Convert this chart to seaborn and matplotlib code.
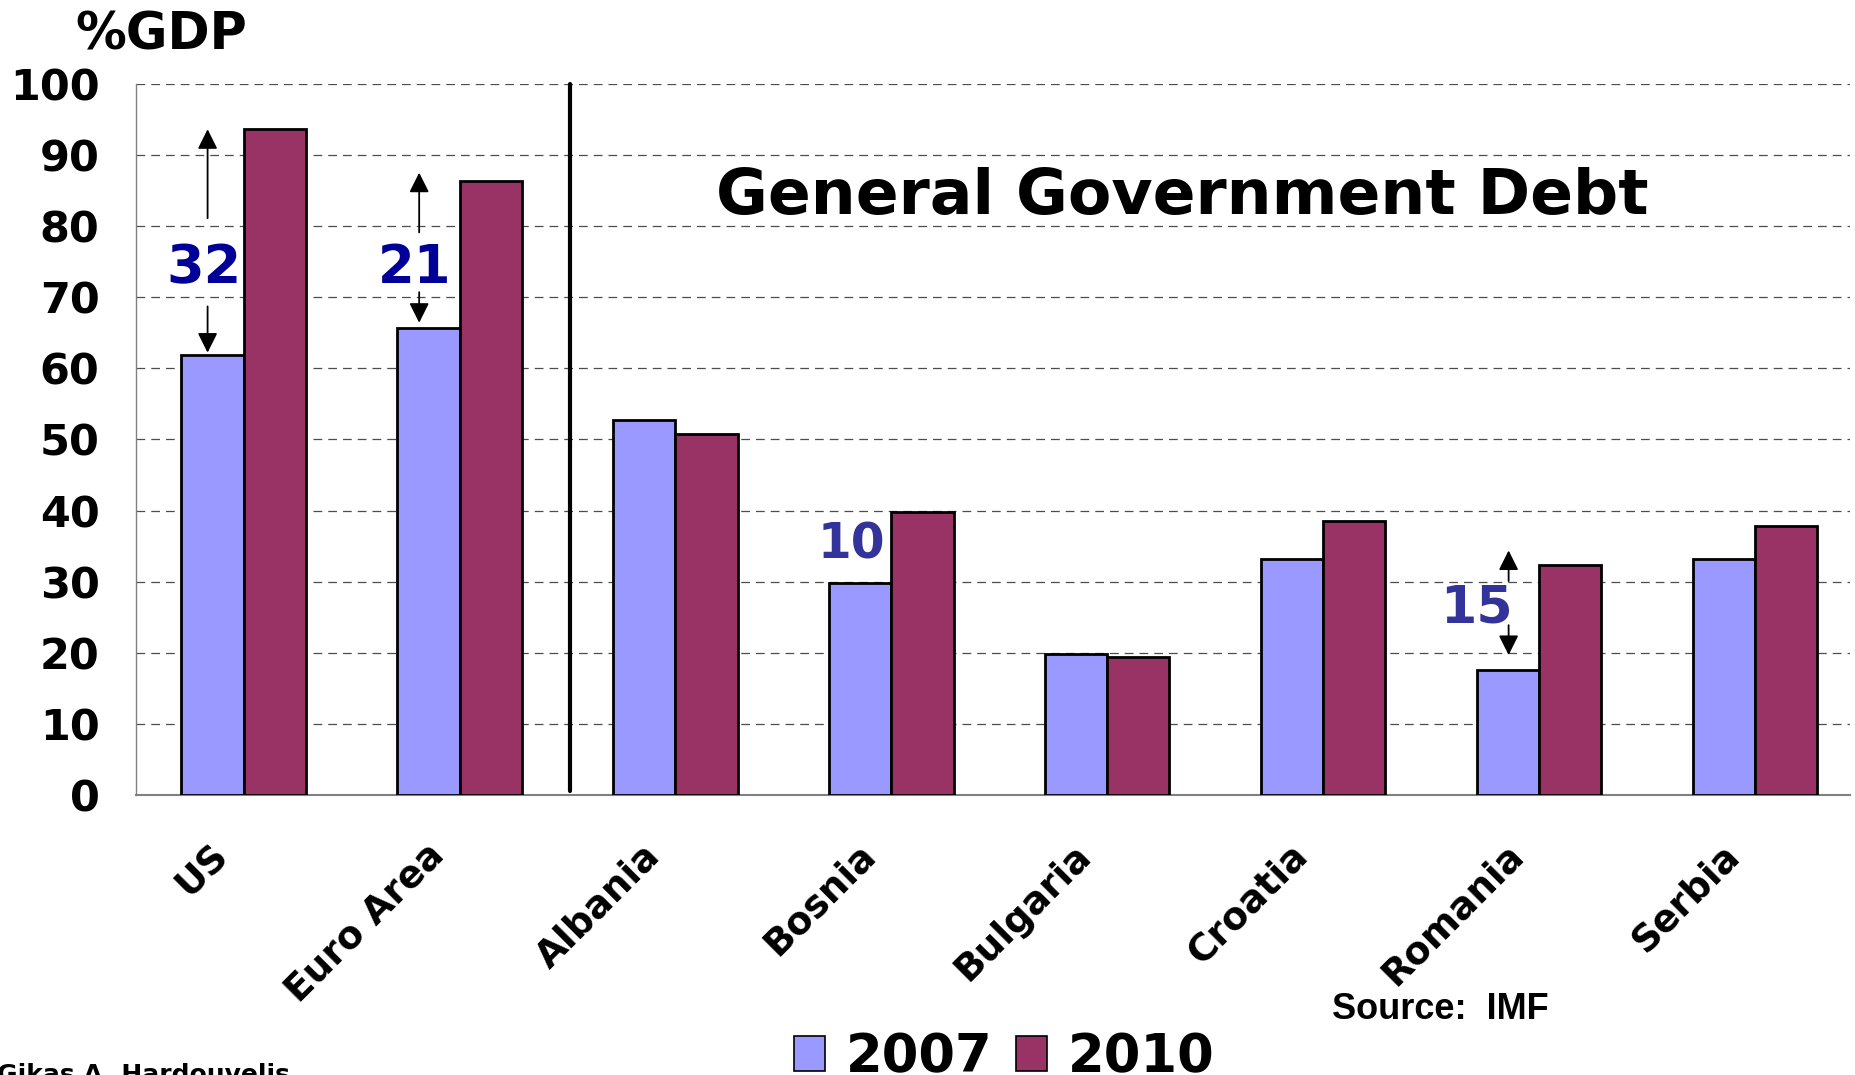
import numpy as np
import pandas as pd
import matplotlib
matplotlib.use("Agg")
import matplotlib.pyplot as plt
import matplotlib.transforms as mtransforms
from matplotlib.patches import Patch
import seaborn as sns

# ---- data ----
categories = ["US", "Euro Area", "Albania", "Bosnia", "Bulgaria", "Croatia", "Romania", "Serbia"]
years = ["2007", "2010"]
debt_2007 = [61.9, 65.7, 52.8, 29.8, 19.8, 33.2, 17.6, 33.2]
debt_2010 = [93.7, 86.3, 50.8, 39.8, 19.4, 38.5, 32.3, 37.8]
yticks = list(range(0, 101, 10))
change_labels = ["32", "21", "10", "15"]
title = "General Government Debt"
ylabel = "%GDP"
source = "Source:  IMF"
author = "Gikas A. Hardouvelis"

colors = {"2007": "#9999FF", "2010": "#993366"}

df = pd.DataFrame({
    "country": categories * 2,
    "year": ["2007"] * len(categories) + ["2010"] * len(categories),
    "debt": debt_2007 + debt_2010,
})

sns.set_style("white")
plt.rcParams["font.family"] = ["DejaVu Sans"]
plt.rcParams["font.weight"] = "bold"
for k in ["text.color", "axes.labelcolor", "xtick.labelcolor", "ytick.labelcolor"]:
    plt.rcParams[k] = "black"

W, H = 1856, 1075
fig = plt.figure(figsize=(W / 100, H / 100), dpi=100)
left_px, right_px, top_px, bottom_px = 135.7, 1850, 83.7, 795.2
unit_px = 215.9
ax = fig.add_axes([left_px / W, 1 - bottom_px / H, (right_px - left_px) / W, (bottom_px - top_px) / H])

sns.barplot(data=df, x="country", y="debt", hue="year", order=categories, hue_order=years,
            palette=colors, width=0.576, gap=0, edgecolor="black", linewidth=2.0,
            saturation=1, ax=ax, legend=False, zorder=3)

ax.set_axisbelow(True)

# grid
ax.set_yticks(yticks)
ax.yaxis.grid(True, color="#4d4d4d", linewidth=0.9, linestyle=(0, (7, 4.8)))
ax.xaxis.grid(False)

for s in ["top", "right"]:
    ax.spines[s].set_visible(False)
ax.spines["left"].set_color("#808080")
ax.spines["left"].set_linewidth(1.0)
ax.spines["bottom"].set_color("#808080")
ax.spines["bottom"].set_linewidth(1.5)

ax.tick_params(axis="y", length=10, width=1.0, color="#808080", pad=16,
               labelsize=31, labelcolor="black")
for t in ax.get_yticklabels():
    t.set_fontweight("bold")

# x ticks: labels at centres, tick marks at boundaries
ax.set_xticks(range(len(categories)))
ax.set_xticklabels(categories, rotation=45, ha="right", va="top",
                   rotation_mode="anchor", fontsize=27, fontweight="bold", color="black")
ax.set_xticks(np.arange(-0.5, len(categories) + 0.5, 1), minor=True)
ax.tick_params(axis="x", which="major", length=0, pad=0)
ax.tick_params(axis="x", which="minor", length=9, width=1.0, color="#808080")
offset = mtransforms.ScaledTranslation(-34 / 100, -42 / 100, fig.dpi_scale_trans)
for lab in ax.get_xticklabels():
    lab.set_transform(lab.get_transform() + offset)
ax.set_xlabel("")
ax.set_ylabel("")

# separator line
ax.plot([1.51, 1.51], [0.6, 100], color="black", lw=3.0, zorder=4, clip_on=False)

# title
ax.text(4.346, 81.7, title, ha="center", va="baseline", fontsize=45.5,
        fontweight="bold", color="black", zorder=5)

# change annotations
arrow_kw = dict(arrowstyle="-|>,head_length=0.6,head_width=0.3", color="black",
                lw=1.3, shrinkA=0, shrinkB=0, mutation_scale=20)

# US
ax.annotate("", xy=(-0.167, 93.6), xytext=(-0.167, 81.1), arrowprops=arrow_kw)
ax.annotate("", xy=(-0.167, 62.2), xytext=(-0.167, 68.7), arrowprops=arrow_kw)
ax.text(-0.185, 74.1, change_labels[0], ha="center", va="center", fontsize=39,
        fontweight="bold", color="#000099", zorder=5)
# Euro Area
ax.annotate("", xy=(0.813, 87.5), xytext=(0.813, 79.1), arrowprops=arrow_kw)
ax.annotate("", xy=(0.813, 66.4), xytext=(0.813, 70.7), arrowprops=arrow_kw)
ax.text(0.793, 74.1, change_labels[1], ha="center", va="center", fontsize=38,
        fontweight="bold", color="#000099", zorder=5)
# Bosnia
ax.text(2.817, 35.2, change_labels[2], ha="center", va="center", fontsize=35,
        fontweight="bold", color="#333399", zorder=5)
# Romania
ax.annotate("", xy=(5.859, 34.4), xytext=(5.859, 30.1), arrowprops=arrow_kw)
ax.annotate("", xy=(5.859, 19.7), xytext=(5.859, 23.9), arrowprops=arrow_kw)
ax.text(5.709, 26.3, change_labels[3], ha="center", va="center", fontsize=37.5,
        fontweight="bold", color="#333399", zorder=5)

# %GDP label
fig.text(75 / W, 1 - 50 / H, ylabel, ha="left", va="baseline", fontsize=36.5,
         fontweight="bold", color="black")

# source
fig.text(1332 / W, 1 - 1019 / H, source, ha="left", va="baseline", fontsize=26,
         fontweight="bold", family=["Liberation Sans", "DejaVu Sans"], color="black")

# author (clipped at bottom)
fig.text(-3 / W, -7 / H, author, ha="left", va="baseline", fontsize=18,
         fontweight="bold", color="black")

# legend
handles = [Patch(facecolor=colors[y], edgecolor="black", linewidth=1.2) for y in years]
leg = fig.legend(handles, years, loc="center left", bbox_to_anchor=(794 / W, 1 - 1057 / H),
                 ncol=2, frameon=False, fontsize=38, handlelength=0.58, handleheight=0.66,
                 handletextpad=0.4, columnspacing=0.45, borderpad=0, borderaxespad=0,
                 labelcolor="black")
for t in leg.get_texts():
    t.set_fontweight("bold")

# final limits (after all artists)
ax.set_xlim(-0.5, -0.5 + (right_px - left_px) / unit_px)
ax.set_ylim(0, 100)

fig.savefig("out.png", dpi=100)
